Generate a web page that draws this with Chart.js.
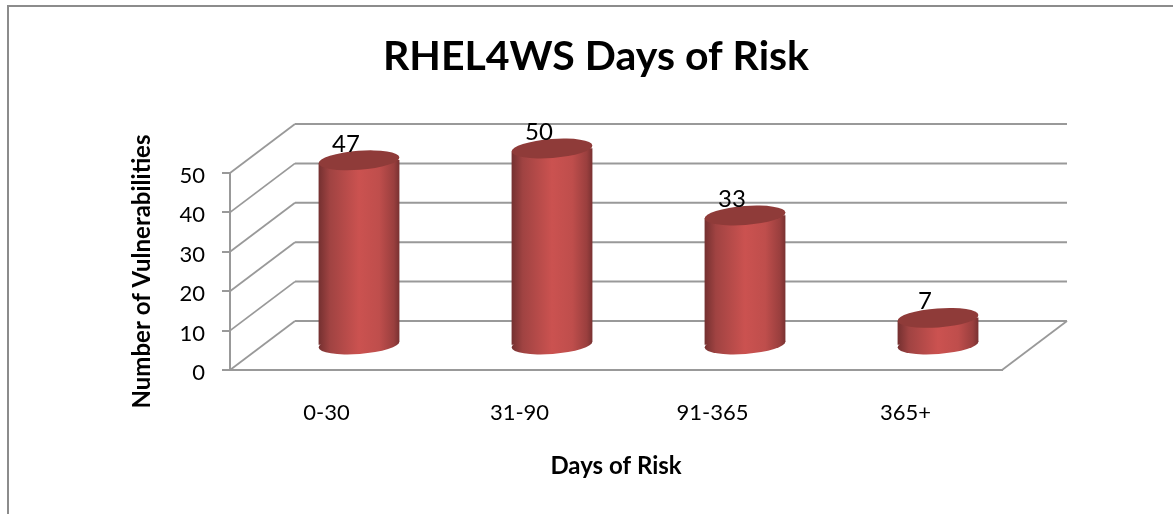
<!DOCTYPE html>
<html>
<head>
<meta charset="utf-8">
<title>RHEL4WS Days of Risk</title>
<script src="https://cdn.jsdelivr.net/npm/chart.js@4"></script>
<style>
  html, body { margin: 0; padding: 0; background: #fff; }
  #wrap { position: relative; width: 1173px; height: 514px; overflow: hidden; }
  #frame { position: absolute; left: 7px; top: 5px; width: 1180px; height: 530px;
           border-top: 2px solid #8c8c8c; border-left: 2px solid #8c8c8c; pointer-events: none; }
  canvas { display: block; }
</style>
</head>
<body>
<div id="wrap">
  <canvas id="riskChart" width="1173" height="514"></canvas>
  <div id="frame"></div>
</div>
<script>
const categories = ['0-30', '31-90', '91-365', '365+'];
const vulnerabilities = [47, 50, 33, 7];
const yTicks = [0, 10, 20, 30, 40, 50];

const fontName = 'Lato, "Open Sans", sans-serif';
const gridColor = '#999999';

// depth of the 3D box, bars stand halfway in
const depthX = 65;
const depthY = -49;
const barShiftX = depthX / 2;
const barShiftY = depthY / 2;
const tilt = -0.075;
const capHeight = 9.5;

function barGradient(c, left, right) {
  const g = c.createLinearGradient(left, 0, right, 0);
  g.addColorStop(0, '#743030');
  g.addColorStop(0.14, '#a04342');
  g.addColorStop(0.5, '#cb5250');
  g.addColorStop(0.75, '#bf4e4c');
  g.addColorStop(0.93, '#9a3f3e');
  g.addColorStop(1, '#783131');
  return g;
}

// back wall and floor lines
const boxPlugin = {
  id: 'box',
  afterLayout(chart) {
    // title sits over the whole box, not just the front plane
    chart.titleBlock.left += 31;
    chart.titleBlock.right += 31;
  },
  beforeDatasetsDraw(chart) {
    const c = chart.ctx;
    const yScale = chart.scales.y;
    const area = chart.chartArea;
    c.save();
    c.strokeStyle = gridColor;
    yTicks.forEach(v => {
      const y = yScale.getPixelForValue(v);
      c.lineWidth = 1.8;
      c.beginPath();
      c.moveTo(area.left, y);
      c.lineTo(area.left + depthX, y + depthY);
      c.stroke();
      c.lineWidth = 2;
      c.beginPath();
      c.moveTo(area.left + depthX, y + depthY);
      c.lineTo(area.right + depthX, y + depthY);
      c.stroke();
    });
    c.lineWidth = 1.8;
    c.beginPath();
    c.moveTo(area.right, area.bottom);
    c.lineTo(area.right + depthX, area.bottom + depthY);
    c.stroke();
    c.restore();
  }
};

// turns the flat bars into cylinders and writes the values
const cylinderPlugin = {
  id: 'cylinder',
  beforeDatasetDraw(chart) {
    const c = chart.ctx;
    const bars = chart.getDatasetMeta(0).data;
    c.save();
    c.translate(barShiftX, barShiftY);
    bars.forEach(bar => {
      const r = bar.width / 2;
      c.fillStyle = barGradient(c, bar.x - r, bar.x + r);
      c.beginPath();
      c.ellipse(bar.x, bar.base, r, capHeight, tilt, 0, Math.PI * 2);
      c.fill();
    });
    // keep the rectangles between the tilted end caps
    const t = bars[0].width / 2 * Math.sin(tilt);
    c.beginPath();
    bars.forEach(bar => {
      const r = bar.width / 2;
      c.moveTo(bar.x - r, bar.y - t);
      c.lineTo(bar.x + r, bar.y + t);
      c.lineTo(bar.x + r, bar.base + t);
      c.lineTo(bar.x - r, bar.base - t);
      c.closePath();
    });
    c.clip();
  },
  afterDatasetDraw(chart) {
    const c = chart.ctx;
    c.restore();
    c.save();
    c.translate(barShiftX, barShiftY);
    chart.getDatasetMeta(0).data.forEach((bar, i) => {
      const r = bar.width / 2;
      c.fillStyle = '#8f3b39';
      c.beginPath();
      c.ellipse(bar.x, bar.y, r, capHeight, tilt, 0, Math.PI * 2);
      c.fill();
      c.fillStyle = '#000';
      c.font = '24px ' + fontName;
      c.textAlign = 'center';
      c.textBaseline = 'middle';
      c.fillText(vulnerabilities[i], bar.x - 13, bar.y - 16.5);
    });
    c.restore();
  }
};

const ctx = document.getElementById('riskChart').getContext('2d');
new Chart(ctx, {
  type: 'bar',
  data: {
    labels: categories,
    datasets: [{
      data: vulnerabilities,
      barThickness: 81,
      borderWidth: 0,
      clip: false,
      backgroundColor(context) {
        const x = context.chart.scales.x;
        const mid = x ? x.getPixelForValue(context.dataIndex) : NaN;
        if (!Number.isFinite(mid)) return '#cb5250';
        return barGradient(context.chart.ctx, mid - 40.5, mid + 40.5);
      }
    }]
  },
  plugins: [boxPlugin, cylinderPlugin],
  options: {
    responsive: false,
    animation: false,
    layout: { padding: { left: 128, right: 171, top: 0, bottom: 33 } },
    plugins: {
      legend: { display: false },
      tooltip: { enabled: false },
      title: {
        display: true,
        text: 'RHEL4WS Days of Risk',
        color: '#000',
        font: { family: fontName, size: 41, weight: 'bold' },
        padding: { top: 32, bottom: 91.8 }
      }
    },
    scales: {
      x: {
        afterFit(scale) { scale.height = 111; },
        grid: { display: false },
        border: { display: true, color: gridColor, width: 2 },
        ticks: { color: '#000', font: { family: fontName, size: 22 }, padding: 22 },
        title: {
          display: true,
          text: 'Days of Risk',
          color: '#000',
          font: { family: fontName, size: 24, weight: 'bold' },
          padding: { top: 18, bottom: 0 }
        }
      },
      y: {
        min: 0,
        max: 50,
        afterFit(scale) { scale.width = 102; },
        afterBuildTicks(scale) { scale.ticks = yTicks.map(v => ({ value: v })); },
        grid: { drawOnChartArea: false, drawTicks: true, tickLength: 8, color: gridColor, lineWidth: 2 },
        border: { display: true, color: gridColor, width: 2 },
        ticks: { color: '#000', font: { family: fontName, size: 22 }, padding: 17, labelOffset: 3 },
        title: {
          display: true,
          text: 'Number of Vulnerabilities',
          color: '#000',
          font: { family: fontName, size: 24, weight: 'bold' },
          padding: 0
        }
      }
    }
  }
});
</script>
</body>
</html>
